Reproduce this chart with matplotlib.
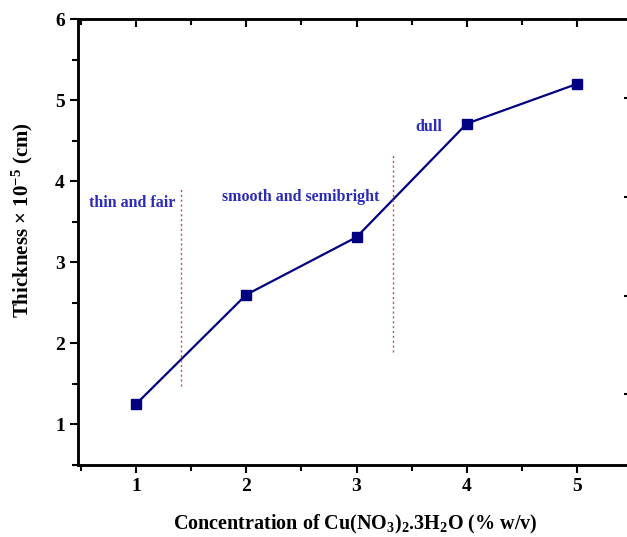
import numpy as np
import matplotlib.pyplot as plt
from matplotlib.ticker import MultipleLocator

plt.rcParams['font.family'] = 'Liberation Serif'
plt.rcParams['font.weight'] = 'bold'
plt.rcParams['mathtext.fontset'] = 'custom'
plt.rcParams['mathtext.rm'] = 'Liberation Serif:bold'
plt.rcParams['mathtext.it'] = 'Liberation Serif:bold'
plt.rcParams['mathtext.default'] = 'rm'

conc = [1, 2, 3, 4, 5]
thickness = [1.25, 2.60, 3.31, 4.71, 5.20]

# region boundaries (x, ymin, ymax)
bounds_x = [1.41, 3.33]
bounds_lo = [1.48, 1.89]
bounds_hi = [3.91, 4.32]

labels = ["thin and fair", "smooth and semibright", "dull"]
label_x = [0.97, 2.49, 3.66]
label_y = [3.73, 3.80, 4.67]

navy = "#000080"
text_blue = "#2b2bb8"

fig = plt.figure(figsize=(6.27, 5.37), dpi=100)
ax = fig.add_axes([0.1244, 0.134, 0.884, 0.8306])

ax.plot(conc, thickness, color=navy, lw=1.6, marker="s", ms=7.5,
        markerfacecolor=navy, markeredgecolor=navy)

for bx, lo, hi in zip(bounds_x, bounds_lo, bounds_hi):
    ax.plot([bx, bx], [lo, hi], color="#c0504d", lw=1, ls=(0, (1.5, 2)))

for t, lx, ly in zip(labels, label_x, label_y):
    ax.text(lx, ly, t, color=text_blue, fontsize=11.5, ha="center", va="center",
            fontweight="bold")

ax.set_xlim(0.475, 5.5)
ax.set_ylim(0.5, 6)
ax.xaxis.set_major_locator(MultipleLocator(1))
ax.xaxis.set_minor_locator(MultipleLocator(0.5))
ax.yaxis.set_major_locator(MultipleLocator(1))
ax.yaxis.set_minor_locator(MultipleLocator(0.5))
ax.tick_params(which="major", direction="out", length=6, width=1.5, labelsize=14)
ax.tick_params(which="minor", direction="out", length=4, width=1.5)
for s in ax.spines.values():
    s.set_linewidth(1.8)

# top ticks point inward
sec = ax.secondary_xaxis("top")
sec.xaxis.set_major_locator(MultipleLocator(1))
sec.xaxis.set_minor_locator(MultipleLocator(0.5))
sec.tick_params(which="major", direction="in", length=6, width=1.5)
sec.tick_params(which="minor", direction="in", length=4, width=1.5)
sec.set_xticklabels([])

right = ax.twinx()
right.set_ylim(0.5, 6)
right.set_yticks([5.03, 3.80, 2.59, 1.38])
right.set_yticklabels([])
right.tick_params(direction="in", length=6, width=1.5)
for s in right.spines.values():
    s.set_linewidth(1.8)

ax.set_xlabel("Concentration of Cu(NO$_3$)$_2$.3H$_2$O (% w/v)", fontsize=14.5,
              fontweight="bold", labelpad=13)
ax.set_ylabel(r"Thickness $\times$ 10$^{-5}$ (cm)", fontsize=15,
              fontweight="bold")
ax.yaxis.set_label_coords(-0.078, 0.55)

fig.savefig("out.png", dpi=100)
